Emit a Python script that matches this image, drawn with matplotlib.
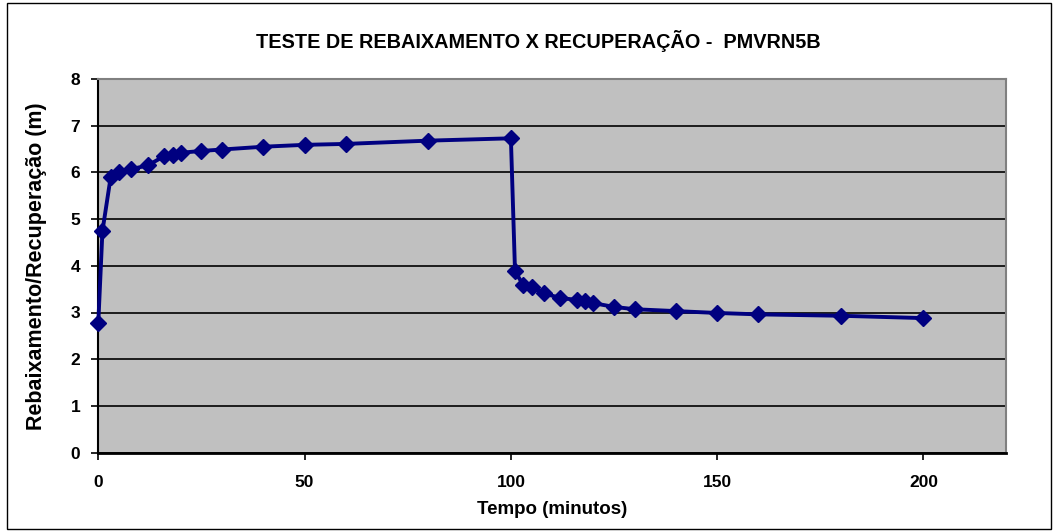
import matplotlib
matplotlib.use("Agg")
import matplotlib.pyplot as plt
from matplotlib.patches import Rectangle

# Pumping (drawdown) and recovery test readings
tempo_min = [0, 1, 3, 5, 8, 12, 16, 18, 20, 25, 30, 40, 50, 60, 80, 100,
             101, 103, 105, 108, 112, 116, 118, 120, 125, 130, 140, 150,
             160, 180, 200]
nivel_m = [2.78, 4.74, 5.90, 6.00, 6.07, 6.15, 6.35, 6.37, 6.42, 6.46, 6.49,
           6.55, 6.59, 6.61, 6.68, 6.73,
           3.88, 3.59, 3.55, 3.41, 3.31, 3.27, 3.24, 3.20, 3.12, 3.07, 3.03,
           2.99, 2.96, 2.93, 2.88]

x_ticks = [0, 50, 100, 150, 200]
y_ticks = [0, 1, 2, 3, 4, 5, 6, 7, 8]

titulo = "TESTE DE REBAIXAMENTO X RECUPERAÇÃO -  PMVRN5B"
rotulo_x = "Tempo (minutos)"
rotulo_y = "Rebaixamento/Recuperação (m)"

plt.rcParams["font.family"] = ["Liberation Sans", "DejaVu Sans"]
plt.rcParams["font.weight"] = "bold"

W, H = 1058, 531
fig = plt.figure(figsize=(W / 100, H / 100), dpi=100)
fig.patch.set_facecolor("white")

# outer chart frame
fig.add_artist(Rectangle((7 / W, 1 - 529 / H), (1051 - 7) / W, (529 - 3) / H,
                         transform=fig.transFigure, fill=False,
                         edgecolor="black", linewidth=1.0))

left, right, top, bottom = 98.3, 1006, 79, 452.6
ax = fig.add_axes([left / W, 1 - bottom / H, (right - left) / W, (bottom - top) / H])
ax.set_facecolor("#C0C0C0")

ax.set_xlim(0, 220)
ax.set_ylim(0, 8)
ax.set_xticks(x_ticks)
ax.set_yticks(y_ticks)
ax.yaxis.grid(True, color="black", linewidth=1.2)
ax.set_axisbelow(True)

ax.plot(tempo_min, nivel_m, color="#000080", linewidth=2.8, marker="D",
        markersize=8, markerfacecolor="#000080", markeredgecolor="#000080",
        zorder=3, clip_on=False)

for s in ("top", "right"):
    ax.spines[s].set_color("#808080")
    ax.spines[s].set_linewidth(1.5)
ax.spines["left"].set_color("black")
ax.spines["left"].set_linewidth(1.5)
ax.spines["bottom"].set_color("black")
ax.spines["bottom"].set_linewidth(2.0)

ax.tick_params(axis="both", direction="out", length=5, width=1.2,
               colors="black", labelsize=12.5)
ax.tick_params(axis="x", pad=11)
ax.tick_params(axis="y", pad=8)
for lab in ax.get_xticklabels() + ax.get_yticklabels():
    lab.set_fontweight("bold")

fig.text(538 / W, 1 - 41 / H, titulo, ha="center", va="center",
         fontsize=14.3, fontweight="bold")
fig.text(0.5 * (98.3 + 1006) / W, 1 - 510 / H, rotulo_x, ha="center", va="center",
         fontsize=13.5, fontweight="bold")
fig.text(37 / W, 1 - 0.5 * (92 + 440) / H, rotulo_y, ha="center", va="center",
         rotation=90, fontsize=15.5, fontweight="bold")

fig.savefig("out.png", dpi=100, facecolor="white")
